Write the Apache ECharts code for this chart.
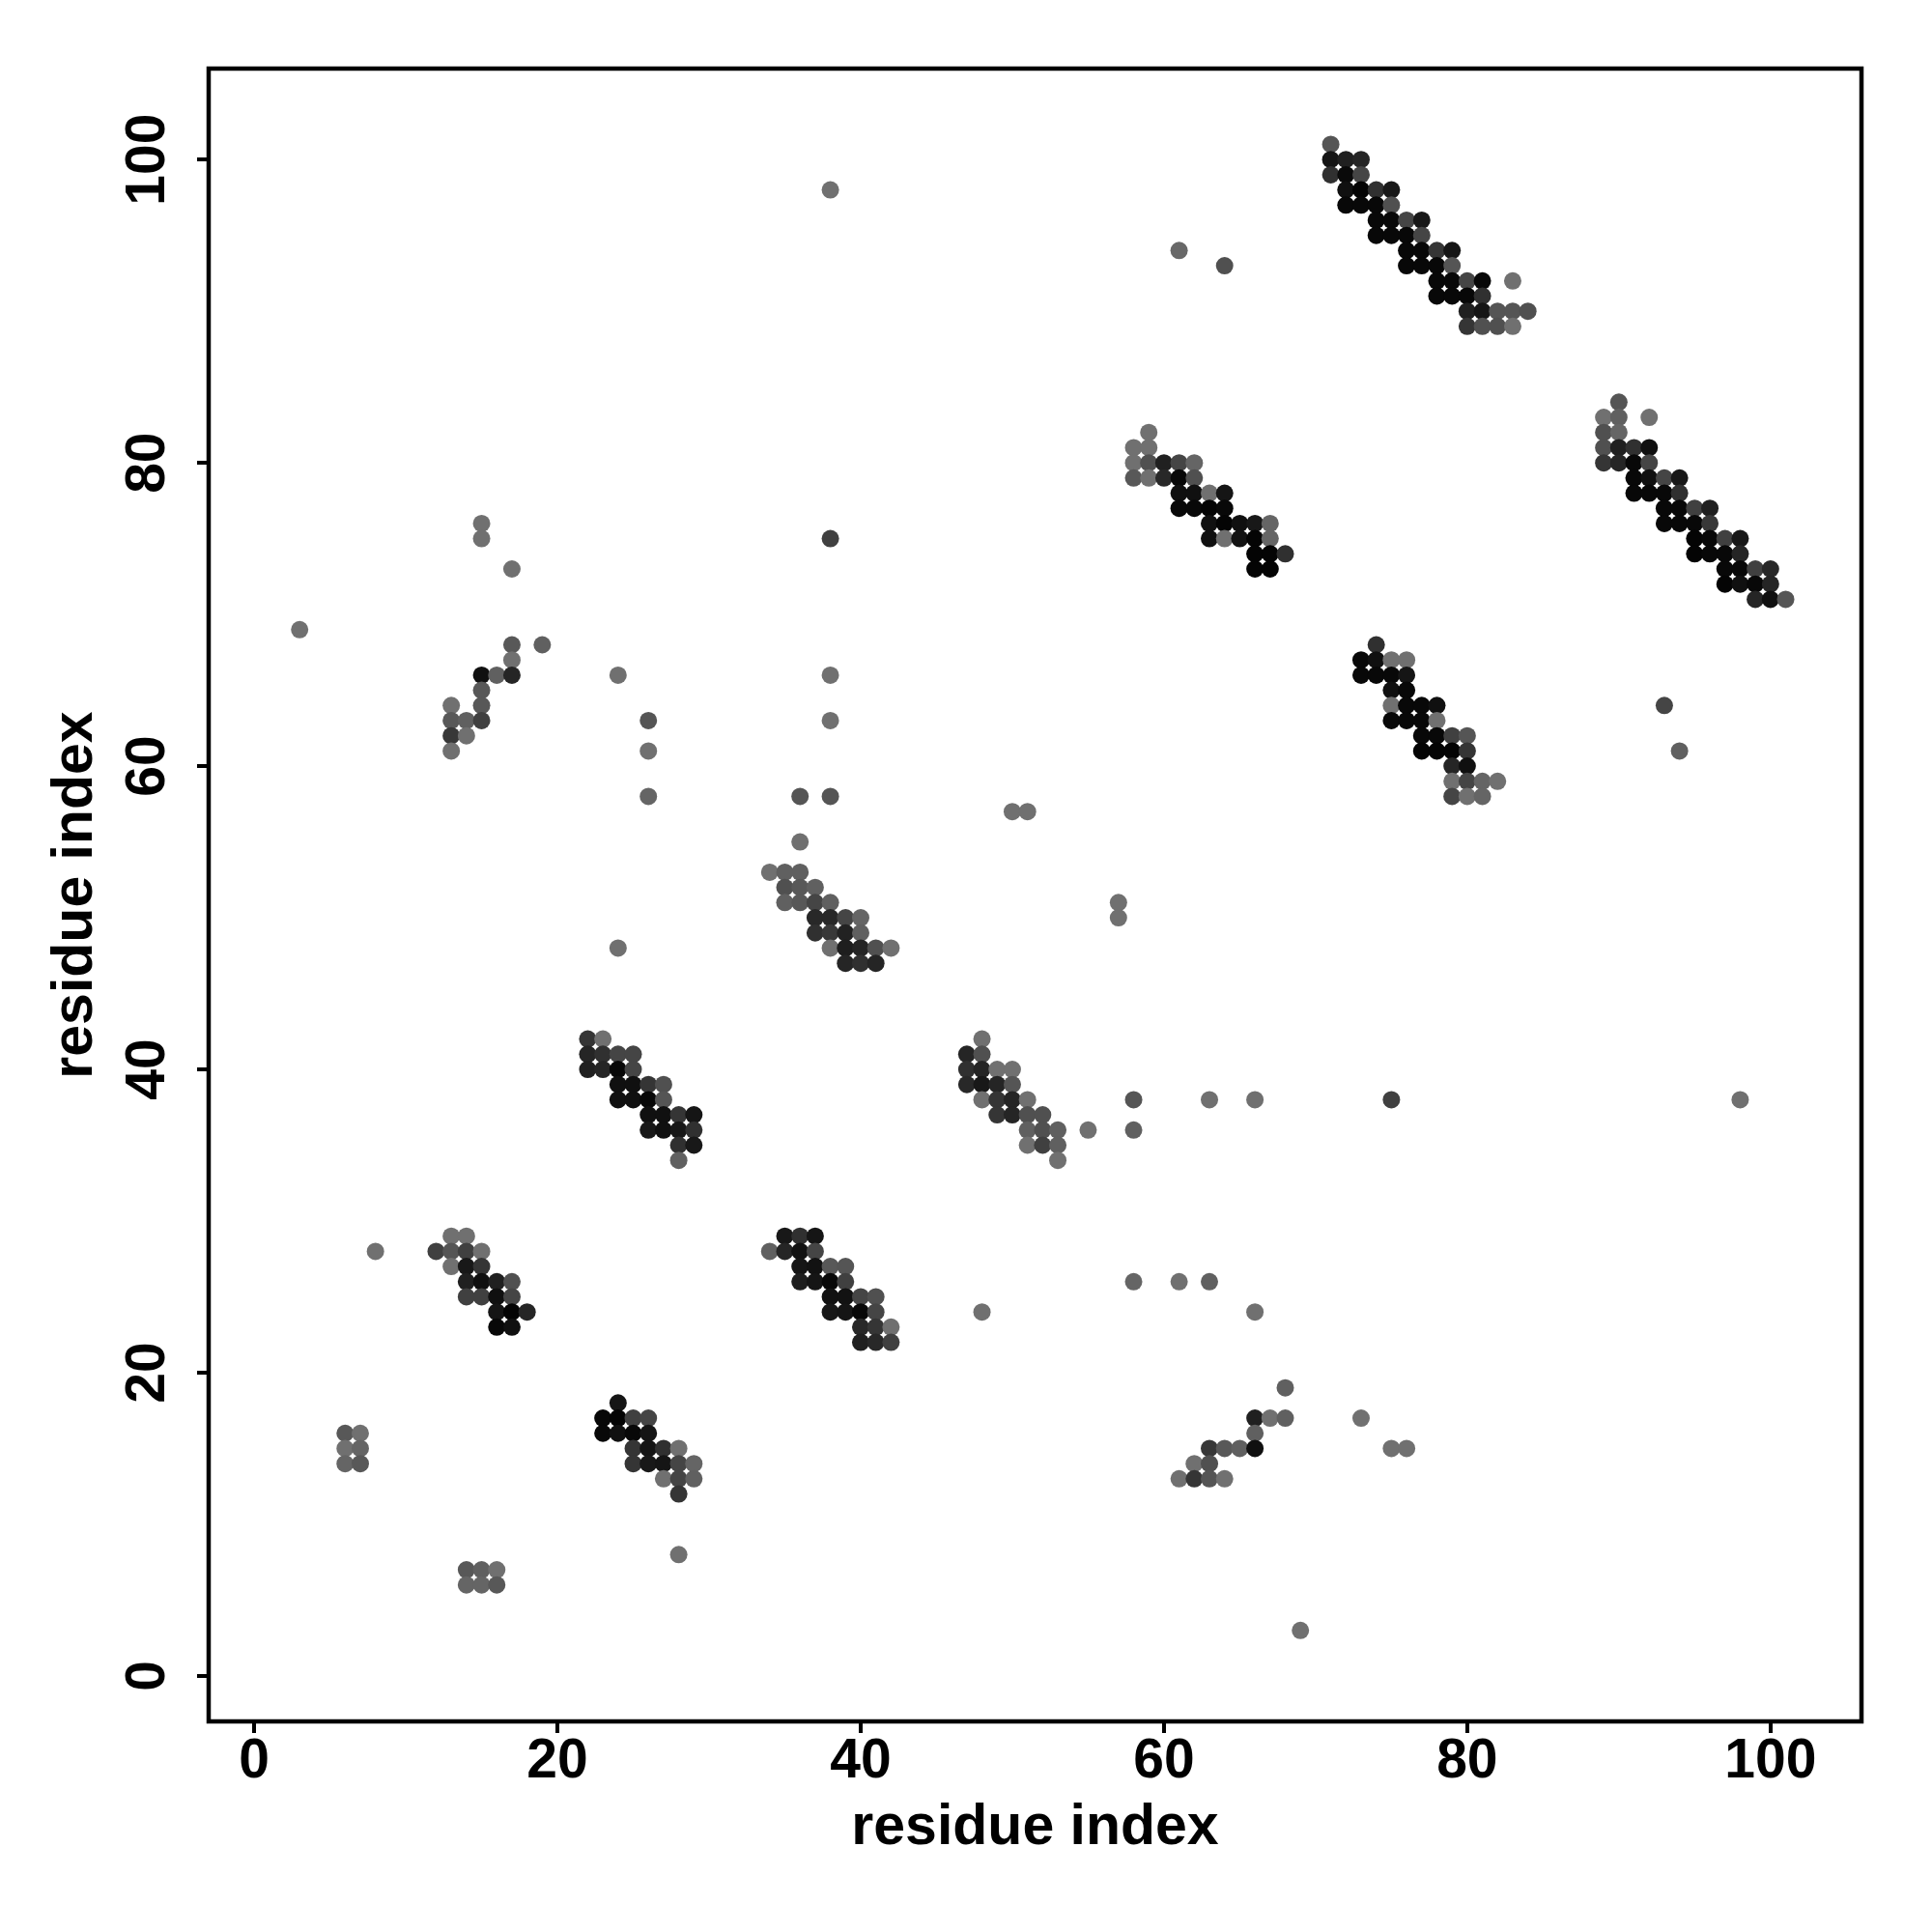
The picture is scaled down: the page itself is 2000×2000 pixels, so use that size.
<!DOCTYPE html>
<html><head><meta charset="utf-8">
<script src="https://cdn.jsdelivr.net/npm/echarts@6/dist/echarts.min.js"></script>
<style>html,body{margin:0;padding:0;background:#fff}#c{width:2000px;height:2000px}</style>
</head><body><div id="c"></div>
<script>
// Each contact: [residue i, residue j, contact probability]
const bandTop = [
[71,101,.24],
[71,100,.81],[72,100,.71],[73,100,.67],
[71,99,.57],[72,99,.91],[73,99,.38],
[72,98,.86],[73,98,.96],[74,98,.57],[75,98,.79],
[72,97,.93],[73,97,.93],[74,97,.93],[75,97,.29],
[74,96,.93],[75,96,.93],[76,96,.38],[77,96,.79],
[74,95,.93],[75,95,.93],[76,95,.93],[77,95,.38],
[76,94,.93],[77,94,.93],[78,94,.53],[79,94,.81],
[76,93,.93],[77,93,.93],[78,93,.93],[79,93,.24],
[78,92,.93],[79,92,.93],[80,92,.38],[81,92,.93],[83,92,0],
[78,91,.93],[79,91,.93],[80,91,.93],[81,91,.57],
[80,90,.71],[81,90,.81],[82,90,.24],[83,90,.24],[84,90,.29],
[80,89,.53],[81,89,.29],[82,89,.29],[83,89,0]
];
const bandRight = [
[90,84,.24],
[89,83,0],[90,83,.14],[92,83,0],
[89,82,.29],[90,82,.10],
[89,81,.29],[90,81,.71],[91,81,.57],[92,81,.86],
[89,80,.53],[90,80,.67],[91,80,.93],[92,80,.38],
[91,79,.93],[92,79,.86],[93,79,.38],[94,79,.79],
[91,78,.93],[92,78,.93],[93,78,.93],[94,78,.57],
[93,77,.93],[94,77,.93],[95,77,.43],[96,77,.71],
[93,76,.93],[94,76,.93],[95,76,.93],[96,76,.50],
[95,75,.96],[96,75,.93],[97,75,.43],[98,75,.79],
[95,74,.96],[96,74,.93],[97,74,.93],[98,74,.67],
[97,73,.93],[98,73,.93],[99,73,.43],[100,73,.64],
[97,72,.96],[98,72,.86],[99,72,.93],[100,72,.67],
[99,71,.67],[100,71,.86],[101,71,.24]
];
const band60s80 = [
[59,82,0],
[58,81,0],[59,81,0],
[58,80,0],[59,80,.29],[60,80,.71],[61,80,.38],[62,80,.10],
[58,79,.21],[59,79,0],[60,79,.64],[61,79,.93],[62,79,.29],
[61,78,.86],[62,78,.86],[63,78,0],[64,78,.81],
[61,77,.93],[62,77,.93],[63,77,.96],[64,77,.93],
[63,76,.86],[64,76,.96],[65,76,.86],[66,76,.79],[67,76,.10],
[63,75,.86],[64,75,0],[65,75,.84],[66,75,.96],[67,75,.10],
[66,74,.96],[67,74,.96],[68,74,.57],
[66,73,.96],[67,73,.96]
];
const band70s60 = [
[74,68,.57],
[73,67,.93],[74,67,.86],[75,67,0],[76,67,0],
[73,66,.93],[74,66,.93],[75,66,.93],[76,66,.81],
[75,65,.86],[76,65,.93],
[75,64,0],[76,64,.93],[77,64,.93],[78,64,.86],
[75,63,.93],[76,63,.93],[77,63,.93],[78,63,0],
[77,62,.93],[78,62,.93],[79,62,.43],[80,62,.24],
[77,61,.96],[78,61,.96],[79,61,.96],[80,61,.53],
[79,60,.67],[80,60,.86],
[79,59,0],[80,59,.38],[81,59,.10],[82,59,0],
[79,58,.38],[80,58,0],[81,58,.10]
];
const band10s60 = [
[17,68,.21],[19,68,.14],
[17,67,0],
[15,66,.86],[16,66,.14],[17,66,.67],
[15,65,.21],
[13,64,0],[15,64,.21],
[13,63,.21],[14,63,.14],[15,63,.43],
[13,62,.50],[14,62,0],
[13,61,0]
];
const band30s50 = [
[34,53,0],[35,53,.14],[36,53,.14],
[35,52,.29],[36,52,.21],[37,52,.14],
[35,51,.14],[36,51,.21],[37,51,.38],[38,51,.14],
[37,50,.64],[38,50,.64],[39,50,.38],[40,50,.10],
[37,49,.57],[38,49,.50],[39,49,.70],[40,49,.14],
[38,48,0],[39,48,.73],[40,48,.67],[41,48,.29],[42,48,0],
[39,47,.67],[40,47,.57],[41,47,.67]
];
const band20s40 = [
[22,42,.53],[23,42,0],
[22,41,.67],[23,41,.57],[24,41,.38],[25,41,.38],
[22,40,.71],[23,40,.67],[24,40,.93],[25,40,.38],
[24,39,.86],[25,39,.86],[26,39,.53],[27,39,.29],
[24,38,.86],[25,38,.86],[26,38,.93],[27,38,.24],
[26,37,.86],[27,37,.86],[28,37,.53],[29,37,.81],
[26,36,.79],[27,36,.86],[28,36,.79],[29,36,.57],
[28,35,.57],[29,35,.79],
[28,34,.14]
];
const band50s40 = [
[48,42,0],
[47,41,.67],[48,41,.29],
[47,40,.57],[48,40,.67],[49,40,0],[50,40,0],
[47,39,.64],[48,39,.79],[49,39,.67],[50,39,.24],
[48,38,0],[49,38,.53],[50,38,.67],[51,38,0],
[49,37,.53],[50,37,.67],[51,37,.29],[52,37,.29],
[51,36,.14],[52,36,.29],[53,36,.14],
[51,35,0],[52,35,.43],[53,35,.14],
[53,34,0]
];
const band10s20 = [
[13,29,0],[14,29,0],
[12,28,.43],[13,28,.24],[14,28,.43],[15,28,0],
[13,27,0],[14,27,.79],[15,27,.53],
[14,26,.71],[15,26,.86],[16,26,.71],[17,26,.29],
[14,25,.43],[15,25,.43],[16,25,.86],[17,25,.38],
[16,24,.81],[17,24,.96],[18,24,.67],
[16,23,.93],[17,23,.86]
];
const band30s20 = [
[35,29,.79],[36,29,.57],[37,29,.81],
[34,28,.14],[35,28,.67],[36,28,.84],[37,28,.38],
[36,27,.81],[37,27,.84],[38,27,.21],[39,27,.24],
[36,26,.73],[37,26,.81],[38,26,.93],[39,26,.43],
[38,25,.84],[39,25,.84],[40,25,.38],[41,25,.29],
[38,24,.79],[39,24,.81],[40,24,.93],[41,24,.38],
[40,23,.64],[41,23,.53],[42,23,0],
[40,22,.71],[41,22,.64],[42,22,.43]
];
const band20s10 = [
[24,18,.81],
[23,17,.93],[24,17,.96],[25,17,.43],[26,17,.38],
[23,16,.93],[24,16,.86],[25,16,.93],[26,16,.81],
[25,15,.53],[26,15,.81],[27,15,.57],[28,15,0],
[25,14,.53],[26,14,.79],[27,14,.81],[28,14,.38],[29,14,.10],
[27,13,0],[28,13,.38],[29,13,.14],
[28,12,.53]
];
const band60s10 = [
[68,19,.14],
[66,17,.71],[67,17,0],[68,17,.14],
[66,16,.14],
[63,15,.50],[64,15,.21],[65,15,.14],[66,15,.86],
[62,14,0],[63,14,.29],
[61,13,0],[62,13,.53],[63,13,.24],[64,13,0]
];
const smallBlocks = [
[6,16,.21],[7,16,0],[6,15,0],[7,15,.10],[6,14,.10],[7,14,.21],
[14,7,.21],[15,7,.14],[16,7,0],[14,6,.10],[15,6,.10],[16,6,.21]
];
const isolated = [
[3,69,0],[15,76,0],[15,75,0],[17,73,0],[38,98,0],[38,75,.43],
[61,94,.07],[64,93,.29],
[24,66,0],[26,63,.24],[26,61,0],[26,58,.10],[38,66,0],[38,63,0],[36,58,.24],[38,58,.24],[36,55,0],
[50,57,0],[51,57,0],[24,48,0],[57,51,0],[57,50,0],
[93,64,.38],[94,61,.14],
[55,36,0],[58,38,.24],[58,36,.14],[63,38,0],[66,38,0],[75,38,.43],[98,38,0],
[8,28,0],[48,24,0],[58,26,.10],[61,26,0],[63,26,.14],[66,24,0],
[28,8,0],[73,17,0],[75,15,0],[76,15,0],[69,3,0]
];
const tickValues = [0, 20, 40, 60, 80, 100];
const axisTitle = 'residue index';

const contacts = [].concat(bandTop, bandRight, band60s80, band70s60, band10s60,
  band30s50, band20s40, band50s40, band10s20, band30s20, band20s10, band60s10,
  smallBlocks, isolated);

const FONT = '"Liberation Sans", Arial, Helvetica, sans-serif';
const chart = echarts.init(document.getElementById('c'), null, {renderer: 'canvas'});
const labelStyle = {color: '#000', fontFamily: FONT, fontWeight: 'bold', fontSize: 57};
chart.setOption({
  animation: false,
  backgroundColor: '#fff',
  grid: {left: 216, top: 71, width: 1711, height: 1711, show: true,
         borderColor: '#000', borderWidth: 4.5, backgroundColor: 'transparent'},
  visualMap: {type: 'continuous', show: false, dimension: 2, min: 0, max: 1,
              inRange: {color: ['#707070', '#000000']}},
  xAxis: {
    type: 'value', min: -3, max: 106,
    axisLine: {show: false, onZero: false},
    splitLine: {show: false},
    axisTick: {show: true, length: 12, lineStyle: {color: '#000', width: 4}, customValues: tickValues},
    axisLabel: Object.assign({margin: 14, customValues: tickValues}, labelStyle),
    name: axisTitle, nameLocation: 'middle', nameGap: 81,
    nameTextStyle: {color: '#000', fontFamily: FONT, fontWeight: 'bold', fontSize: 59}
  },
  yAxis: {
    type: 'value', min: -3, max: 106,
    axisLine: {show: false, onZero: false},
    splitLine: {show: false},
    axisTick: {show: true, length: 12, lineStyle: {color: '#000', width: 4}, customValues: tickValues},
    axisLabel: Object.assign({margin: 33, rotate: 90, customValues: tickValues}, labelStyle),
    name: axisTitle, nameLocation: 'middle', nameGap: 108, nameRotate: 90,
    nameTextStyle: {color: '#000', fontFamily: FONT, fontWeight: 'bold', fontSize: 59}
  },
  series: [{
    type: 'scatter',
    data: contacts,
    symbol: 'circle',
    symbolSize: 18,
    itemStyle: {opacity: 1},
    emphasis: {disabled: true}
  }]
});
</script></body></html>
